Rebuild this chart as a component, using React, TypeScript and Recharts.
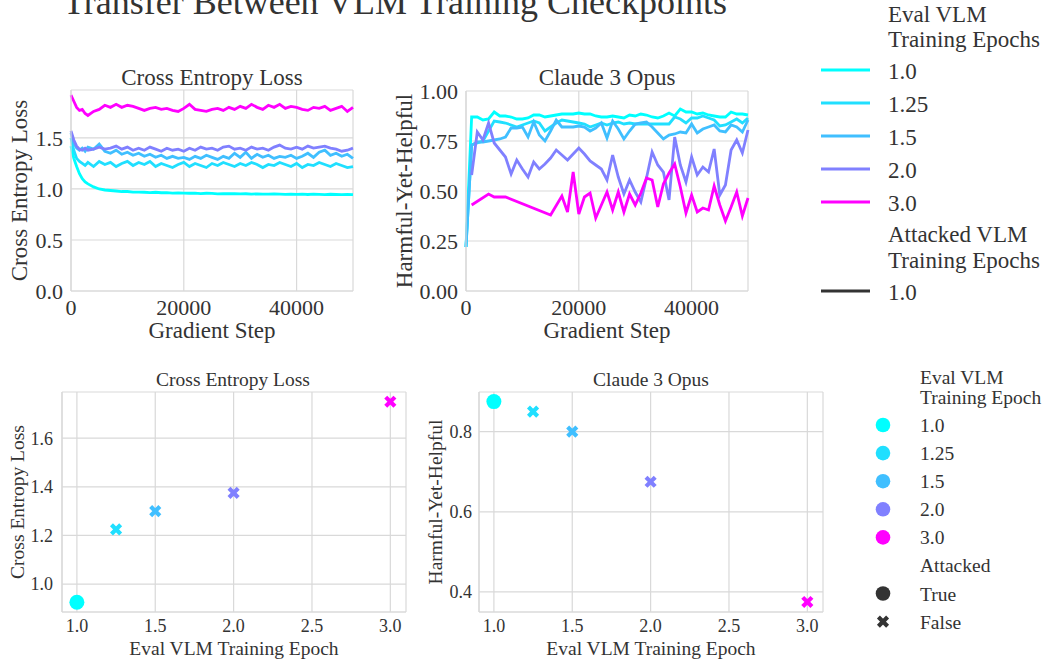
import React from 'react';
import { LineChart, Line, ScatterChart, Scatter, XAxis, YAxis, CartesianGrid } from 'recharts';

const FONT = '"Liberation Serif", "DejaVu Serif", serif';
const INK = '#333333';
const GRID = '#d9d9d9';

// eval VLM training epochs (colours follow matplotlib "cool")
const epochs = [1.0, 1.25, 1.5, 2.0, 3.0];
const epochLabels = ['1.0', '1.25', '1.5', '2.0', '3.0'];
const epochColors = ['#00ffff', '#20dfff', '#40bfff', '#8080ff', '#ff00ff'];
const colorOf = (e: number) => epochColors[epochs.indexOf(e)];

// top left: cross entropy loss vs gradient step
const ceSteps = [
  0, 500, 1000, 1500, 2000, 2500, 3000,
  4000, 5000, 6000, 7000, 8000, 9000, 10000,
  11000, 12000, 13000, 14000, 15000, 16000, 17000, 18000, 19000, 20000,
  21000, 22000, 23000, 24000, 25000, 26000, 27000, 28000, 29000, 30000,
  31000, 32000, 33000, 34000, 35000, 36000, 37000, 38000, 39000, 40000,
  41000, 42000, 43000, 44000, 45000, 46000, 47000, 48000, 49000, 50000,
];
const ce10 = [
  1.42, 1.30, 1.22, 1.15, 1.10, 1.07, 1.05,
  1.02, 1.00, 0.99, 0.985, 0.98, 0.975, 0.975,
  0.97, 0.97, 0.968, 0.965, 0.968, 0.963, 0.965, 0.96, 0.962, 0.96,
  0.958, 0.96, 0.955, 0.958, 0.956, 0.952, 0.955, 0.953, 0.955, 0.951,
  0.953, 0.95, 0.952, 0.95, 0.949, 0.951, 0.95, 0.948, 0.95, 0.947,
  0.949, 0.946, 0.95, 0.947, 0.945, 0.948, 0.946, 0.945, 0.947, 0.944,
];
const ce125 = [
  1.50, 1.38, 1.30, 1.27, 1.25, 1.23, 1.26,
  1.22, 1.27, 1.24, 1.26, 1.22, 1.25, 1.27,
  1.23, 1.26, 1.24, 1.27, 1.22, 1.25, 1.23, 1.21, 1.24, 1.26,
  1.22, 1.25, 1.23, 1.21, 1.25, 1.23, 1.26, 1.24, 1.22, 1.25,
  1.23, 1.26, 1.24, 1.21, 1.24, 1.23, 1.26, 1.24, 1.22, 1.25,
  1.21, 1.24, 1.23, 1.26, 1.24, 1.22, 1.25, 1.23, 1.21, 1.22,
];
const ce15 = [
  1.55, 1.45, 1.40, 1.38, 1.40, 1.37, 1.41,
  1.39, 1.44, 1.37, 1.35, 1.38, 1.34, 1.36,
  1.33, 1.35, 1.32, 1.34, 1.31, 1.33, 1.30, 1.32, 1.30, 1.31,
  1.29, 1.32, 1.30, 1.33, 1.31, 1.29, 1.32, 1.30, 1.35, 1.31,
  1.36, 1.30, 1.34, 1.31, 1.33, 1.30, 1.32, 1.31, 1.33, 1.30,
  1.32, 1.35, 1.31, 1.36, 1.38, 1.33, 1.35, 1.32, 1.34, 1.30,
];
const ce20 = [
  1.57, 1.48, 1.42, 1.39, 1.38, 1.40, 1.38,
  1.39, 1.41, 1.39, 1.40, 1.42, 1.39, 1.41,
  1.38, 1.40, 1.38, 1.41, 1.39, 1.37, 1.40, 1.38, 1.39, 1.37,
  1.40, 1.38, 1.41, 1.39, 1.40, 1.38, 1.41, 1.42, 1.39, 1.40,
  1.38, 1.41, 1.39, 1.40, 1.38, 1.41, 1.43, 1.40, 1.39, 1.41,
  1.39, 1.42, 1.40, 1.41, 1.42, 1.40, 1.39, 1.37, 1.38, 1.40,
];
const ce30 = [
  1.92, 1.86, 1.80, 1.77, 1.78, 1.74, 1.72,
  1.76, 1.78, 1.82, 1.80, 1.83, 1.80, 1.82,
  1.81, 1.79, 1.77, 1.79, 1.80, 1.78, 1.79, 1.77, 1.76, 1.79,
  1.83, 1.78, 1.77, 1.76, 1.78, 1.79, 1.77, 1.80, 1.78, 1.81,
  1.79, 1.83, 1.80, 1.78, 1.82, 1.80, 1.83, 1.79, 1.81, 1.80,
  1.78, 1.77, 1.80, 1.79, 1.81, 1.77, 1.79, 1.81, 1.76, 1.80,
];

// top right: Claude 3 Opus harmful-yet-helpful vs gradient step
const hyhSteps = [
  0, 1000, 2000, 3000, 4000, 5000, 6000, 7000, 8000, 9000, 10000,
  11000, 12000, 13000, 14000, 15000, 16000, 17000, 18000, 19000, 20000,
  21000, 22000, 23000, 24000, 25000, 26000, 27000, 28000, 29000, 30000,
  31000, 32000, 33000, 34000, 35000, 36000, 37000, 38000, 39000, 40000,
  41000, 42000, 43000, 44000, 45000, 46000, 47000, 48000, 49000, 50000,
];
const hyh10 = [
  0.22, 0.87, 0.87, 0.855, 0.86, 0.895, 0.875, 0.875, 0.87, 0.86, 0.86,
  0.865, 0.88, 0.88, 0.87, 0.875, 0.88, 0.885, 0.885, 0.885, 0.89,
  0.885, 0.885, 0.875, 0.87, 0.87, 0.875, 0.87, 0.865, 0.88, 0.875,
  0.885, 0.88, 0.87, 0.865, 0.875, 0.89, 0.875, 0.91, 0.895, 0.895,
  0.885, 0.89, 0.88, 0.875, 0.87, 0.87, 0.895, 0.885, 0.885, 0.88,
];
const hyh125 = [
  0.22, 0.73, 0.74, 0.75, 0.80, 0.85, 0.845, 0.84, 0.83, 0.82, 0.83,
  0.84, 0.85, 0.84, 0.80, 0.82, 0.84, 0.855, 0.85, 0.845, 0.84,
  0.835, 0.82, 0.83, 0.84, 0.83, 0.84, 0.845, 0.835, 0.84, 0.835,
  0.835, 0.835, 0.835, 0.835, 0.835, 0.835, 0.87, 0.86, 0.84, 0.865,
  0.865, 0.875, 0.865, 0.855, 0.825, 0.83, 0.845, 0.86, 0.84, 0.865,
];
const hyh15 = [
  0.22, 0.73, 0.745, 0.745, 0.75, 0.755, 0.76, 0.77, 0.815, 0.815, 0.82,
  0.77, 0.845, 0.78, 0.75, 0.80, 0.855, 0.82, 0.82, 0.82, 0.825,
  0.82, 0.80, 0.815, 0.84, 0.765, 0.85, 0.81, 0.76, 0.80, 0.835,
  0.84, 0.845, 0.82, 0.79, 0.76, 0.78, 0.785, 0.795, 0.79, 0.835,
  0.79, 0.81, 0.82, 0.83, 0.80, 0.795, 0.83, 0.82, 0.795, 0.855,
];
const hyh20Steps = [
  1000, 2000, 3000, 4000, 5000, 6000, 7000, 8000, 9000, 10000,
  11000, 12000, 13000, 14000, 15000, 16000, 17000, 18000, 19000, 20000,
  21000, 22000, 23000, 24000, 25000, 26000, 27000, 28000, 29000, 30000,
  31000, 32000, 33000, 34000, 35000, 36000, 37000, 38000, 39000, 40000,
  41000, 42000, 43000, 44000, 45000, 46000, 47000, 48000, 49000, 50000,
];
const hyh20 = [
  0.58, 0.795, 0.755, 0.84, 0.74, 0.705, 0.67, 0.585, 0.655, 0.61,
  0.57, 0.645, 0.61, 0.635, 0.665, 0.705, 0.68, 0.655, 0.685, 0.715,
  0.685, 0.65, 0.63, 0.61, 0.555, 0.68, 0.57, 0.485, 0.555, 0.495,
  0.445, 0.565, 0.695, 0.63, 0.595, 0.455, 0.77, 0.63, 0.545, 0.67,
  0.58, 0.62, 0.595, 0.71, 0.48, 0.53, 0.705, 0.755, 0.69, 0.805,
];
const hyh30Steps = [
  1000, 4000, 5000, 7000, 15000,
  17000, 18000, 19000, 20000,
  21000, 22000, 23000, 24000, 25000, 26000, 27000, 28000, 29000, 30000,
  31000, 32000, 33000, 34000, 35000, 36000, 37000, 38000, 39000, 40000,
  41000, 42000, 43000, 44000, 45000, 46000, 47000, 48000, 49000, 50000,
];
const hyh30 = [
  0.43, 0.485, 0.47, 0.47, 0.38,
  0.475, 0.395, 0.595, 0.385,
  0.47, 0.49, 0.365, 0.43, 0.495, 0.405, 0.495, 0.395, 0.485, 0.43,
  0.49, 0.565, 0.555, 0.42, 0.535, 0.59, 0.635, 0.52, 0.39, 0.48,
  0.395, 0.415, 0.405, 0.525, 0.43, 0.35, 0.42, 0.495, 0.375, 0.465,
];

// bottom: mean per eval epoch
const lossMean = [0.925, 1.225, 1.3, 1.375, 1.75];
const hyhMean = [0.875, 0.85, 0.8, 0.675, 0.375];
const attacked = [true, false, false, false, false];

const ceKeys = ['e10', 'e125', 'e15', 'e20', 'e30'];
const ceSeries = [ce10, ce125, ce15, ce20, ce30];
const ceData = ceSteps.map((step, i) => {
  const row: Record<string, number> = { step };
  ceKeys.forEach((k, j) => { row[k] = ceSeries[j][i]; });
  return row;
});

const hyhSeries = [
  { steps: hyhSteps, values: hyh10 },
  { steps: hyhSteps, values: hyh125 },
  { steps: hyhSteps, values: hyh15 },
  { steps: hyh20Steps, values: hyh20 },
  { steps: hyh30Steps, values: hyh30 },
].map((s) => s.steps.map((step, i) => ({ step, value: s.values[i] })));

const pointsFor = (vals: number[], flag: boolean) =>
  epochs
    .map((epoch, i) => ({ epoch, value: vals[i], att: attacked[i] }))
    .filter((d) => d.att === flag);

const bigTick = { fill: INK, fontSize: 22, fontFamily: FONT };
const smallTick = { fill: INK, fontSize: 18, fontFamily: FONT };

const Dot = (props: any) => {
  const { cx, cy, payload } = props;
  return <circle cx={cx} cy={cy} r={7.5} fill={colorOf(payload.epoch)} />;
};

const XMark = (props: any) => {
  const { cx, cy, payload } = props;
  const h = 4.6;
  return (
    <path
      d={`M${cx - h},${cy - h}L${cx + h},${cy + h}M${cx + h},${cy - h}L${cx - h},${cy + h}`}
      stroke={colorOf(payload.epoch)}
      strokeWidth={4.2}
    />
  );
};

const xLabel = (value: string, size: number, offset: number) => ({
  value, position: 'insideBottom' as const, offset, fill: INK, fontSize: size, fontFamily: FONT,
});
const yLabel = (value: string, size: number, offset: number) => ({
  value, angle: -90, position: 'insideLeft' as const, offset, fill: INK, fontSize: size,
  fontFamily: FONT, style: { textAnchor: 'middle' },
});

const stepTicks = [0, 20000, 40000];
const epochTicks = [1, 1.5, 2, 2.5, 3];
const LW = 2.8;

const App: React.FC = () => (
  <div style={{ position: 'absolute', left: 0, top: 0, width: 1047, height: 659, background: '#fff', overflow: 'hidden', fontFamily: FONT }}>
    <style>{`.recharts-wrapper text, .recharts-wrapper tspan { font-family: "Liberation Serif", "DejaVu Serif", serif !important; }`}</style>
    {/* top left */}
    <div style={{ position: 'absolute', left: 0, top: 60 }}>
      <LineChart width={370} height={290} data={ceData} margin={{ top: 30, right: 17, bottom: 9, left: 0 }}>
        <CartesianGrid stroke={GRID} strokeWidth={1.2} />
        <XAxis type="number" dataKey="step" domain={[0, 50000]} ticks={stepTicks} tick={bigTick}
          tickLine={false} tickSize={0} tickMargin={8} axisLine={{ stroke: GRID, strokeWidth: 1.2 }}
          height={50} label={xLabel('Gradient Step', 23, 3)} />
        <YAxis type="number" domain={[0, 1.97]} ticks={[0, 0.5, 1, 1.5]} tickFormatter={(v) => v.toFixed(1)}
          tick={bigTick} tickLine={false} tickSize={0} tickMargin={8} axisLine={{ stroke: GRID, strokeWidth: 1.2 }}
          width={71} label={yLabel('Cross Entropy Loss', 23, 19)} />
        {ceKeys.map((k, i) => (
          <Line key={k} dataKey={k} stroke={epochColors[i]} strokeWidth={LW} dot={false} isAnimationActive={false} />
        ))}
      </LineChart>
    </div>

    {/* top right */}
    <div style={{ position: 'absolute', left: 380, top: 60 }}>
      <LineChart width={390} height={290} margin={{ top: 31, right: 22, bottom: 9, left: 0 }}>
        <CartesianGrid stroke={GRID} strokeWidth={1.2} />
        <XAxis type="number" dataKey="step" domain={[0, 50000]} ticks={stepTicks} tick={bigTick}
          tickLine={false} tickSize={0} tickMargin={8} axisLine={{ stroke: GRID, strokeWidth: 1.2 }}
          height={50} label={xLabel('Gradient Step', 23, 3)} allowDuplicatedCategory={false} />
        <YAxis type="number" dataKey="value" domain={[0, 1]} ticks={[0, 0.25, 0.5, 0.75, 1]} tickFormatter={(v) => v.toFixed(2)}
          tick={bigTick} tickLine={false} tickSize={0} tickMargin={8} axisLine={{ stroke: GRID, strokeWidth: 1.2 }}
          width={86} label={yLabel('Harmful-Yet-Helpful', 23, 24)} />
        {hyhSeries.map((d, i) => (
          <Line key={epochLabels[i]} data={d} dataKey="value" stroke={epochColors[i]} strokeWidth={LW} dot={false} isAnimationActive={false} />
        ))}
      </LineChart>
    </div>

    {/* bottom left */}
    <div style={{ position: 'absolute', left: 0, top: 360 }}>
      <ScatterChart width={420} height={299} margin={{ top: 32, right: 14, bottom: 1, left: 0 }}>
        <CartesianGrid stroke={GRID} strokeWidth={1.2} />
        <XAxis type="number" dataKey="epoch" domain={[0.905, 3.1]} ticks={epochTicks} tickFormatter={(v) => v.toFixed(1)}
          tick={smallTick} tickLine={false} tickSize={0} tickMargin={7} axisLine={{ stroke: GRID, strokeWidth: 1.2 }}
          height={46} label={xLabel('Eval VLM Training Epoch', 19.5, 3)} />
        <YAxis type="number" dataKey="value" domain={[0.885, 1.79]} ticks={[1.0, 1.2, 1.4, 1.6]} tickFormatter={(v) => v.toFixed(1)}
          tick={smallTick} tickLine={false} tickSize={0} tickMargin={9} axisLine={{ stroke: GRID, strokeWidth: 1.2 }}
          width={62} label={yLabel('Cross Entropy Loss', 19.5, 17)} />
        <Scatter data={pointsFor(lossMean, true)} shape={Dot} isAnimationActive={false} />
        <Scatter data={pointsFor(lossMean, false)} shape={XMark} isAnimationActive={false} />
      </ScatterChart>
    </div>

    {/* bottom right */}
    <div style={{ position: 'absolute', left: 420, top: 360 }}>
      <ScatterChart width={420} height={299} margin={{ top: 32, right: 17, bottom: 1, left: 0 }}>
        <CartesianGrid stroke={GRID} strokeWidth={1.2} />
        <XAxis type="number" dataKey="epoch" domain={[0.905, 3.1]} ticks={epochTicks} tickFormatter={(v) => v.toFixed(1)}
          tick={smallTick} tickLine={false} tickSize={0} tickMargin={7} axisLine={{ stroke: GRID, strokeWidth: 1.2 }}
          height={46} label={xLabel('Eval VLM Training Epoch', 19.5, 3)} />
        <YAxis type="number" dataKey="value" domain={[0.35, 0.899]} ticks={[0.4, 0.6, 0.8]} tickFormatter={(v) => v.toFixed(1)}
          tick={smallTick} tickLine={false} tickSize={0} tickMargin={7} axisLine={{ stroke: GRID, strokeWidth: 1.2 }}
          width={59} label={yLabel('Harmful-Yet-Helpful', 19.5, 15)} />
        <Scatter data={pointsFor(hyhMean, true)} shape={Dot} isAnimationActive={false} />
        <Scatter data={pointsFor(hyhMean, false)} shape={XMark} isAnimationActive={false} />
      </ScatterChart>
    </div>

    {/* titles and legends */}
    <svg width={1047} height={659} style={{ position: 'absolute', left: 0, top: 0, pointerEvents: 'none' }}
      fontFamily={FONT} fill={INK}>
      <text x={395} y={14} textAnchor="middle" fontSize={36}>Transfer Between VLM Training Checkpoints</text>
      <text x={212} y={85} textAnchor="middle" fontSize={23}>Cross Entropy Loss</text>
      <text x={607} y={85} textAnchor="middle" fontSize={23}>Claude 3 Opus</text>
      <text x={233} y={386} textAnchor="middle" fontSize={19.5}>Cross Entropy Loss</text>
      <text x={651} y={386} textAnchor="middle" fontSize={19.5}>Claude 3 Opus</text>

      <g fontSize={23}>
        <text x={888} y={22}>Eval VLM</text>
        <text x={888} y={47}>Training Epochs</text>
        {epochLabels.map((lab, i) => (
          <g key={lab}>
            <line x1={821} x2={870} y1={70 + 33 * i} y2={70 + 33 * i} stroke={epochColors[i]} strokeWidth={3} />
            <text x={888} y={79 + 33 * i}>{lab}</text>
          </g>
        ))}
        <text x={888} y={242}>Attacked VLM</text>
        <text x={888} y={268}>Training Epochs</text>
        <line x1={821} x2={870} y1={291} y2={291} stroke={INK} strokeWidth={3} />
        <text x={888} y={300}>1.0</text>
      </g>

      <g fontSize={19.5}>
        <text x={920} y={384}>Eval VLM</text>
        <text x={920} y={404}>Training Epoch</text>
        {epochLabels.map((lab, i) => (
          <g key={lab}>
            <circle cx={883} cy={425 + 28.1 * i} r={7.3} fill={epochColors[i]} />
            <text x={920} y={432 + 28.1 * i}>{lab}</text>
          </g>
        ))}
        <text x={920} y={572}>Attacked</text>
        <circle cx={883} cy={593.5} r={7.3} fill={INK} />
        <text x={920} y={600.5}>True</text>
        <path d="M878.4,617.1L887.6,626.3M887.6,617.1L878.4,626.3" stroke={INK} strokeWidth={4.2} />
        <text x={920} y={628.7}>False</text>
      </g>
    </svg>
  </div>
);

export default App;
